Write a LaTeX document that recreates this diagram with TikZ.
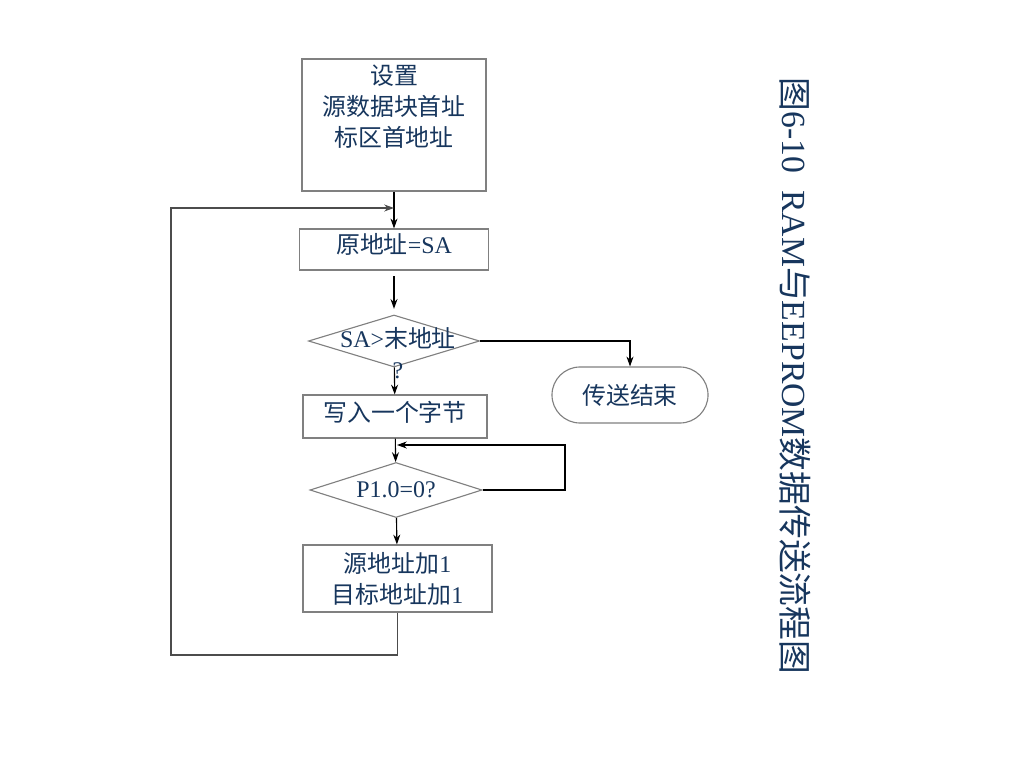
\documentclass[tikz,border=0pt]{standalone}
\usepackage{fontspec}
\setmainfont{Liberation Serif}
\newfontfamily\cjk{Noto Sans CJK SC}
\usetikzlibrary{shapes.geometric,arrows.meta}
\definecolor{txtblue}{RGB}{23,54,93}
\definecolor{boxgray}{RGB}{128,128,128}
\newcommand{\zh}[1]{{\cjk #1}}

\begin{document}
\begin{tikzpicture}[x=0.025cm,y=-0.025cm,
    txt/.style={text=txtblue,font=\fontsize{17pt}{22pt}\selectfont,align=center,inner sep=0pt},
    proc/.style={draw=boxgray,line width=0.8pt,minimum width=4.6cm,inner sep=0pt},
    cond/.style={draw=boxgray,line width=0.8pt,diamond,inner sep=0pt},
    arr/.style={-{Stealth[length=7pt,width=5pt]},line width=0.8pt}]
    \useasboundingbox (0,0) rectangle (1024,768);

            \node[proc,minimum height=3.3cm] (setup) at (394,125) {};
            \node[txt] (setuptxt) at (394,107) {\zh{设置}\\\zh{源数据块首址}\\\zh{标区首地址}};
            \node[proc,txt,draw=boxgray,minimum width=4.725cm,minimum height=1.025cm,text depth=0.3cm] (init) at (394,249.5) {\zh{原地址}=SA};
            \draw[arr] (setup) -- (init);

            \node[cond,minimum width=4.275cm,minimum height=1.3cm] (cmp) at (394,341) {};
            \node[txt] (cmptxt) at (398,353) {SA>\zh{末地址}\\?};
            \draw[arr,shorten <=4pt,shorten >=4pt] (init) -- (cmp);

            \node[proc,txt,draw=boxgray,minimum width=4.6cm,minimum height=1.075cm,text depth=0.25cm] (write) at (395,416.5) {\zh{写入一个字节}};
            \draw[arr] (cmp) -- (write);

            \node[cond,minimum width=4.3cm,minimum height=1.375cm] (wait) at (396,490) {};
            \node[txt] (waittxt) at (396,490) {P1.0=0?};
            \draw[arr] (write) -- (wait);
            \coordinate (waitr) at (565,445);
            \coordinate (waitin) at (397,445);
            \draw[arr] (wait.east) -| (waitr) -- (waitin);

            \node[proc,txt,draw=boxgray,minimum width=4.725cm,minimum height=1.675cm] (inc) at (397.5,578.5) {\zh{源地址加}1\\\zh{目标地址加}1};
            \draw[arr] (wait) -- (inc);

            \node[txt,draw=boxgray,line width=0.8pt,minimum width=3.9cm,minimum height=1.4cm,rounded corners=0.7cm] (done) at (630,395) {\zh{传送结束}};
            \draw[arr] (cmp.east) -| (done.north);

            \coordinate (loopl) at (171,655);
            \coordinate (loopin) at (394,208);
            \draw[arr,draw=black!70] (inc.south) |- (loopl) |- (loopin);

            \node[text=txtblue,font=\fontsize{24pt}{28pt}\selectfont,rotate=-90,inner sep=0pt] (title) at (795,376) {\zh{图}6-10\ \ RAM\zh{与}EEPROM\zh{数据传送流程图}};
        \end{tikzpicture}
\end{document}
